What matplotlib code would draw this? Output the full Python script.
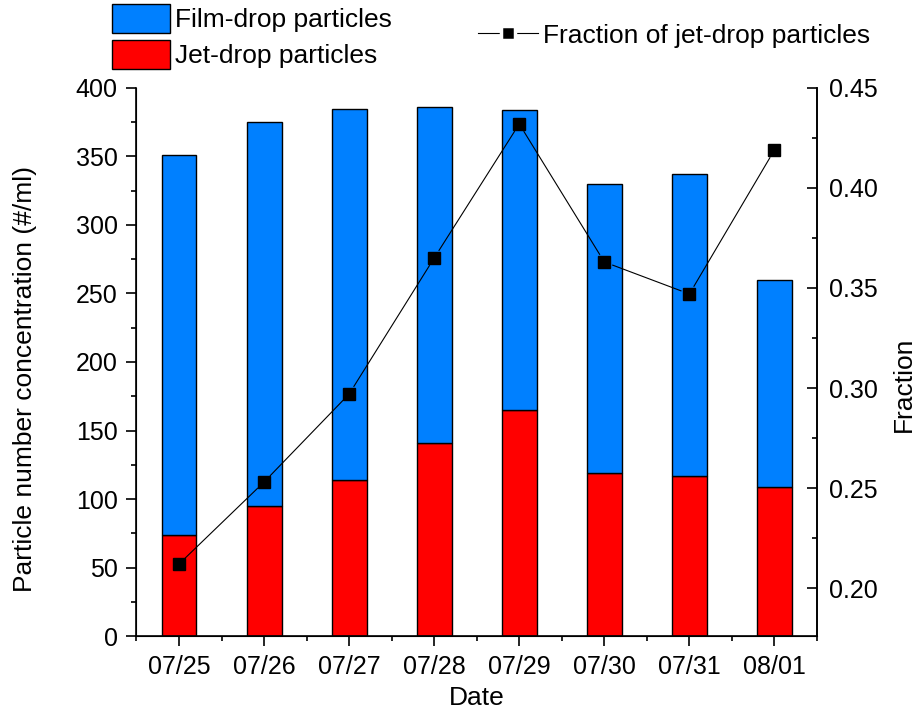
import matplotlib.pyplot as plt
import numpy as np
from matplotlib.ticker import MultipleLocator, FixedLocator, FormatStrFormatter
from matplotlib.patches import Patch
from matplotlib.lines import Line2D

plt.rcParams['font.family'] = ['Liberation Sans', 'DejaVu Sans']
plt.rcParams['font.size'] = 18

dates = ['07/25', '07/26', '07/27', '07/28', '07/29', '07/30', '07/31', '08/01']
total = [351, 375, 385, 386, 384, 330, 337, 260]
jet = [74, 95, 114, 141, 165, 119, 117, 109]
fraction = [0.212, 0.253, 0.297, 0.365, 0.432, 0.363, 0.347, 0.419]

film = [t - j for t, j in zip(total, jet)]
x = np.arange(len(dates))

fig = plt.figure(figsize=(9.19, 7.14), dpi=100)
ax = fig.add_axes([0.1485, 0.1092, 0.7405, 0.7676])

# stacked bars: jet-drop at the bottom, film-drop on top
ax.bar(x, jet, width=0.41, color='#ff0000', edgecolor='black', linewidth=1)
ax.bar(x, film, bottom=jet, width=0.41, color='#0080ff', edgecolor='black', linewidth=1)

ax.set_xlim(-0.5, 7.5)
ax.set_ylim(0, 400)
ax.set_xticks(x)
ax.set_xticklabels(dates)
ax.xaxis.set_minor_locator(FixedLocator(np.arange(-0.5, 7.6, 1.0)))
ax.yaxis.set_major_locator(MultipleLocator(50))
ax.yaxis.set_minor_locator(MultipleLocator(25))
ax.set_xlabel('Date', fontsize=19)
ax.set_ylabel('Particle number concentration (#/ml)', fontsize=19)
ax.xaxis.set_label_coords(0.5, -0.091)
ax.yaxis.set_label_coords(-0.146, 0.469)
ax.spines['top'].set_visible(False)
for s in ['left', 'bottom', 'right']:
    ax.spines[s].set_linewidth(1.2)
ax.tick_params(which='major', direction='out', length=7, width=1.2, pad=6.5)
ax.tick_params(which='minor', direction='out', length=3.5, width=1.2)

ax2 = ax.twinx()
ax2.set_ylim(0.176, 0.45)
ax2.yaxis.set_major_locator(MultipleLocator(0.05))
ax2.yaxis.set_minor_locator(MultipleLocator(0.025))
ax2.yaxis.set_major_formatter(FormatStrFormatter('%.2f'))
ax2.set_ylabel('Fraction', fontsize=19)
ax2.yaxis.set_label_coords(1.110, 0.46)
ax2.spines['top'].set_visible(False)
ax2.spines['right'].set_linewidth(1.2)
ax2.tick_params(which='major', direction='in', length=7, width=1.2, pad=9)
ax2.tick_params(which='minor', direction='in', length=3.5, width=1.2)

# connecting line with small gaps around each marker
gap = 9.0
pts = ax2.transData.transform(np.column_stack([x, fraction]))
inv = ax2.transData.inverted()
for p0, p1 in zip(pts[:-1], pts[1:]):
    d = p1 - p0
    u = d / np.hypot(*d)
    seg = inv.transform(np.array([p0 + u * gap, p1 - u * gap]))
    ax2.plot(seg[:, 0], seg[:, 1], color='black', linewidth=0.8)
ax2.plot(x, fraction, linestyle='none', marker='s', markersize=8.5,
         markerfacecolor='black', markeredgecolor='black')

bar_handles = [Patch(facecolor='#0080ff', edgecolor='black'),
               Patch(facecolor='#ff0000', edgecolor='black')]
fig.legend(bar_handles, ['Film-drop particles', 'Jet-drop particles'],
           loc='upper left', bbox_to_anchor=(0.1219, 0.995), frameon=False,
           fontsize=19, handlelength=2.2, handleheight=1.35, labelspacing=0.25,
           handletextpad=0.2, borderpad=0, borderaxespad=0)

line_handle = Line2D([], [], color='black', linewidth=0.8, marker='s',
                     markersize=10, markerfacecolor='black',
                     markeredgecolor='white', markeredgewidth=2.5)
fig.legend([line_handle], ['Fraction of jet-drop particles'],
           loc='upper left', bbox_to_anchor=(0.520, 0.967), frameon=False,
           fontsize=19, handlelength=2.27, handletextpad=0.2,
           borderpad=0, borderaxespad=0)

plt.savefig('out.png', dpi=100)
